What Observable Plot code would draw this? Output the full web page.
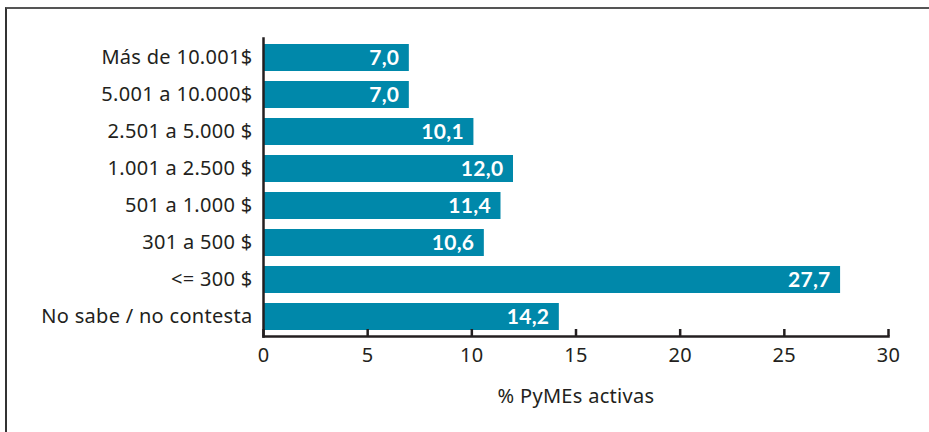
<!DOCTYPE html>
<html>
<head>
<meta charset="utf-8">
<script src="https://cdn.jsdelivr.net/npm/d3@7"></script>
<script src="https://cdn.jsdelivr.net/npm/@observablehq/plot@0.6"></script>
<style>
  html, body { margin: 0; padding: 0; background: #fff; }
  #wrap { position: relative; width: 929px; height: 432px; overflow: hidden; }
  #border { position: absolute; left: 5px; top: 7px; width: 940px; height: 440px;
            border-top: 2px solid #555; border-left: 2px solid #333; box-sizing: border-box; }
  #chart { position: absolute; left: 0; top: 0; }
</style>
</head>
<body>
<div id="wrap"><div id="border"></div><div id="chart"></div></div>
<script>
const categories = ["Más de 10.001$", "5.001 a 10.000$", "2.501 a 5.000 $", "1.001 a 2.500 $", "501 a 1.000 $", "301 a 500 $", "<= 300 $", "No sabe / no contesta"];
const values = [7.0, 7.0, 10.1, 12.0, 11.4, 10.6, 27.7, 14.2];
const xTicks = [0, 5, 10, 15, 20, 25, 30];
const xLabel = "% PyMEs activas";

const data = categories.map((c, i) => ({category: c, value: values[i]}));
const fmt = v => v.toFixed(1).replace(".", ",");
const barColor = "#0088aa";
const ink = "#231f20";
const font = "'Noto Sans', 'Open Sans', sans-serif";

const plot = Plot.plot({
  width: 929,
  height: 432,
  marginTop: 38,
  marginBottom: 96,
  marginLeft: 263,
  marginRight: 41,
  style: {fontFamily: font, fontSize: "20px", color: ink, background: "transparent", letterSpacing: "0.3px"},
  x: {domain: [0, 30], ticks: xTicks},
  y: {domain: categories, paddingInner: 0.27, paddingOuter: 0.11},
  marks: [
    Plot.barX(data, {y: "category", x: "value", fill: barColor}),
    Plot.text(data, {y: "category", x: "value", text: d => fmt(d.value), textAnchor: "end", dx: -10,
      fill: "white", fontWeight: "bold", fontSize: 21, fontFamily: "Lato, 'Noto Sans', sans-serif"}),
    Plot.ruleX(xTicks, {x: d => d, stroke: ink, strokeWidth: 2.5, insetTop: 291}),
    Plot.frame({anchor: "left", stroke: ink, strokeWidth: 2.5}),
    Plot.frame({anchor: "bottom", stroke: ink, strokeWidth: 2.5}),
    Plot.axisX({ticks: xTicks, tickSize: 0, tickPadding: 11, fontSize: 20, fill: ink,
      label: xLabel, labelAnchor: "center", labelArrow: "none", labelOffset: 66}),
    Plot.axisY({tickSize: 0, tickPadding: 11, fontSize: 20, fill: ink, label: null})
  ]
});
document.getElementById("chart").appendChild(plot);
</script>
</body>
</html>
